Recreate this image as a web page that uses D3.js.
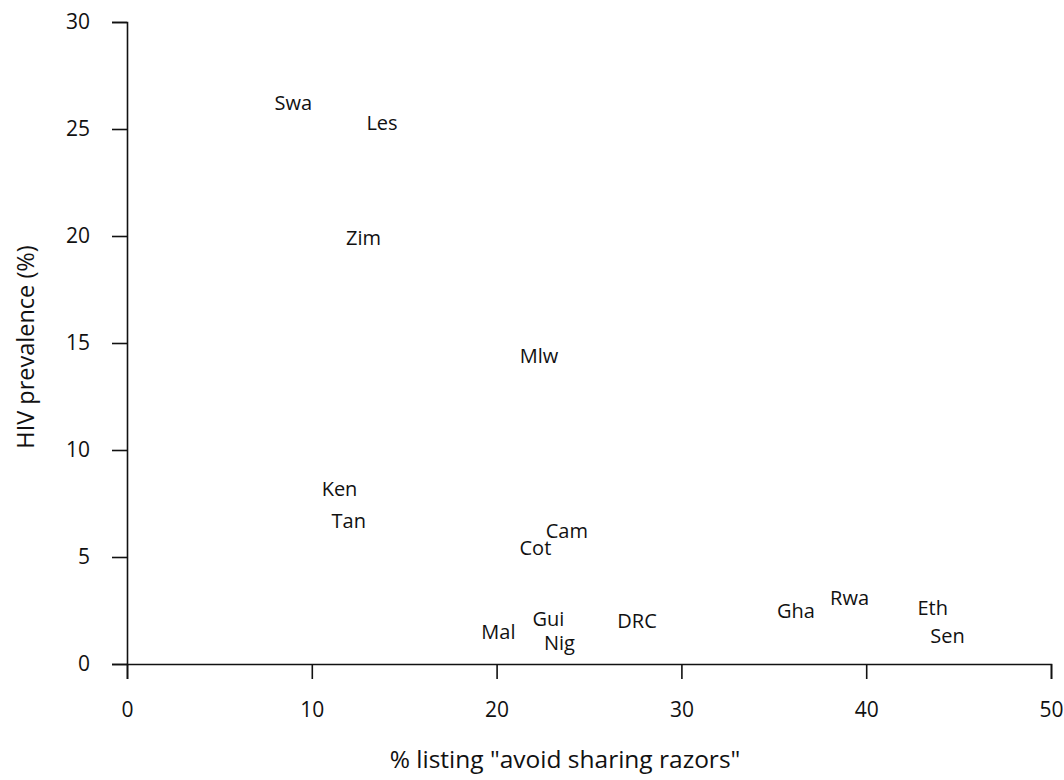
<!DOCTYPE html>
<html lang="en">
<head>
    <meta charset="UTF-8">
    <title>HIV prevalence vs avoid sharing razors</title>
    <script src="https://d3js.org/d3.v7.min.js"></script>
    <style>
        body { margin: 0; background: #fff; }
        svg { display: block; }
        text { font-family: "Open Sans", sans-serif; fill: #111; }
    </style>
</head>
<body>
    <div id="chart"></div>

    <script>
        const width = 1064;
        const height = 780;

        // Country codes and values
        const countries = ["Swa", "Les", "Zim", "Mlw", "Ken", "Tan", "Cam", "Cot",
                           "Mal", "Gui", "Nig", "DRC", "Gha", "Rwa", "Eth", "Sen"];
        const razors = [9.0, 13.8, 12.8, 22.3, 11.5, 12.0, 23.8, 22.1,
                        20.1, 22.8, 23.4, 27.6, 36.2, 39.1, 43.6, 44.4];
        const prevalence = [26.2, 25.3, 19.9, 14.4, 8.2, 6.7, 6.2, 5.4,
                            1.5, 2.1, 1.0, 2.0, 2.5, 3.1, 2.6, 1.3];

        const xTicks = [0, 10, 20, 30, 40, 50];
        const yTicks = [0, 5, 10, 15, 20, 25, 30];

        const svg = d3.select("#chart")
            .append("svg")
            .attr("width", width)
            .attr("height", height);

        const x = d3.scaleLinear().domain([0, 50]).range([127, 1051]);
        const y = d3.scaleLinear().domain([0, 30]).range([664, 22]);

        // x axis: ticks drop below the line
        const xAxis = svg.append("g")
            .attr("transform", `translate(0, ${y(0)})`)
            .call(d3.axisBottom(x).tickValues(xTicks).tickSize(15).tickPadding(23));

        // y axis: ticks stick out to the left
        const yAxis = svg.append("g")
            .attr("transform", `translate(${x(0)}, 0)`)
            .call(d3.axisLeft(y).tickValues(yTicks).tickSize(15).tickPadding(22));

        [xAxis, yAxis].forEach(g => {
            g.select(".domain").attr("stroke", "#111").attr("stroke-width", 1.6);
            g.selectAll(".tick line").attr("stroke", "#111").attr("stroke-width", 1.6);
            g.selectAll(".tick text")
                .style("font-family", "'Open Sans', sans-serif")
                .style("font-size", "21px")
                .attr("fill", "#111");
        });

        // country labels, centred on each point
        svg.append("g")
            .selectAll("text")
            .data(countries)
            .join("text")
            .attr("x", (d, i) => x(razors[i]))
            .attr("y", (d, i) => y(prevalence[i]))
            .attr("dy", "0.35em")
            .attr("text-anchor", "middle")
            .style("font-size", "20px")
            .text(d => d);

        // axis titles
        svg.append("text")
            .attr("x", 565)
            .attr("y", 768)
            .attr("text-anchor", "middle")
            .style("font-size", "24.5px")
            .text('% listing "avoid sharing razors"');

        svg.append("text")
            .attr("transform", "translate(34, 347) rotate(-90)")
            .attr("text-anchor", "middle")
            .style("font-size", "23.5px")
            .text("HIV prevalence (%)");
    </script>
</body>
</html>
